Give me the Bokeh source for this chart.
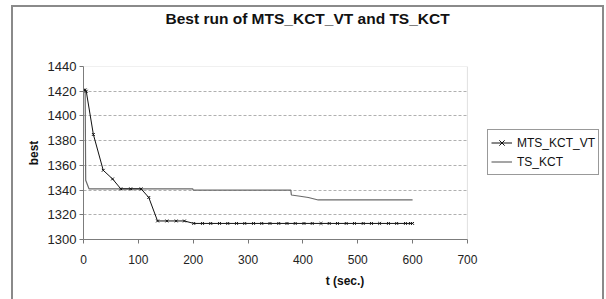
from bokeh.plotting import figure
from bokeh.models import FixedTicker, Legend, LegendItem, Range1d, Title, BoxAnnotation
from bokeh.embed import file_html
from bokeh.resources import INLINE

# ---- data ----
mts_t = [0, 3, 5, 18, 36, 53, 68, 86, 105, 119, 135, 152, 169, 184, 201, 217, 232,
         248, 263, 279, 294, 310, 325, 340, 356, 371, 386, 402, 417, 433, 448, 463,
         479, 494, 510, 525, 540, 556, 571, 587, 596, 600]
mts_v = [1421, 1421, 1420, 1385, 1356, 1349, 1341, 1341, 1341, 1334, 1315, 1315,
         1315, 1315, 1313, 1313, 1313, 1313, 1313, 1313, 1313, 1313, 1313, 1313,
         1313, 1313, 1313, 1313, 1313, 1313, 1313, 1313, 1313, 1313, 1313, 1313,
         1313, 1313, 1313, 1313, 1313, 1313]
ts_t = [0, 3, 4, 10, 199, 200, 378, 379, 395, 410, 428, 600]
ts_v = [1421, 1420, 1348, 1341, 1341, 1340, 1340, 1336, 1335, 1334, 1332, 1332]
x_ticks = [0, 100, 200, 300, 400, 500, 600, 700]
y_ticks = [1300, 1320, 1340, 1360, 1380, 1400, 1420, 1440]

FONT = "Liberation Sans"
X_MIN, X_MAX = x_ticks[0], x_ticks[-1]
Y_MIN, Y_MAX = y_ticks[0], y_ticks[-1]
# frame extends to the right to host the legend; 700 stays at the plot-area edge
X_VIEW_END = X_MAX * 519 / 381

p = figure(width=593, height=294, output_backend="svg", toolbar_location=None,
           x_range=Range1d(X_MIN, X_VIEW_END), y_range=Range1d(Y_MIN, Y_MAX),
           min_border_left=70, min_border_right=0, min_border_top=59,
           min_border_bottom=62)
p.styles = {"margin-left": "11px", "margin-top": "5px",
            "border-top": "2px solid #8a8a8a", "border-left": "2px solid #8a8a8a",
            "border-right": "2px solid #8a8a8a"}

p.title.text = ""
p.add_layout(Title(text=" ", text_font_size="1px", standoff=37,
                   text_color="white"), "above")
p.add_layout(Title(text="Best run of MTS_KCT_VT and TS_KCT", text_font=FONT,
                   text_font_size="15.5px", text_font_style="bold",
                   align="left", offset=82, standoff=0,
                   text_color="#111111"), "above")

p.outline_line_color = None
p.background_fill_color = "white"
p.border_fill_color = "white"

# plot-area border (top/right grey like the reference)
p.add_layout(BoxAnnotation(left=X_MIN, right=X_MAX, bottom=Y_MIN, top=Y_MAX,
                           fill_alpha=0, line_color="#9a9a9a", line_width=1))

p.xgrid.visible = False
grid_y = y_ticks[1:-1]
g = p.ygrid[0]
if "cross_bounds" in g.properties():
    g.ticker = FixedTicker(ticks=grid_y)
    g.cross_bounds = (X_MIN, X_MAX)
    g.grid_line_color = "#b0b0b0"
    g.grid_line_dash = "3 2"
else:
    g.visible = False
    p.segment(x0=[X_MIN] * len(grid_y), x1=[X_MAX] * len(grid_y), y0=grid_y,
              y1=grid_y, line_color="#b0b0b0", line_dash="3 2", line_width=1)

for ax in (p.xaxis[0], p.yaxis[0]):
    ax.axis_line_color = "#777777"
    ax.major_tick_line_color = "#777777"
    ax.major_tick_out = 4
    ax.major_tick_in = 0
    ax.minor_tick_line_color = None
    ax.major_label_text_font = FONT
    ax.major_label_text_color = "#222222"
    ax.axis_label_text_font = FONT
    ax.axis_label_text_font_style = "bold"
    ax.axis_label_text_font_size = "12px"
    ax.axis_label_text_color = "#111111"

p.xaxis.ticker = FixedTicker(ticks=x_ticks)
p.xaxis.bounds = (X_MIN, X_MAX)
p.yaxis.ticker = FixedTicker(ticks=y_ticks)
p.xaxis.major_label_text_font_size = "12px"
p.yaxis.major_label_text_font_size = "13px"
p.xaxis.major_label_standoff = 11
p.yaxis.major_label_standoff = 3
p.xaxis.axis_label = "t (sec.)"
p.yaxis.axis_label = "best"
p.xaxis.axis_label_standoff = 7
p.yaxis.axis_label_standoff = 4

ts_line = p.line(ts_t, ts_v, line_color="#6a6a6a", line_width=1.2)
mts_line = p.line(mts_t, mts_v, line_color="#111111", line_width=1)
mts_pts = p.scatter(mts_t, mts_v, marker="x", size=4, line_color="#111111",
                    line_width=1)

legend = Legend(items=[LegendItem(label="MTS_KCT_VT", renderers=[mts_line, mts_pts]),
                       LegendItem(label="TS_KCT", renderers=[ts_line])],
                location=(404, 64), margin=0, padding=3, spacing=0,
                glyph_width=21, glyph_height=19, label_height=19,
                label_standoff=5, label_text_font=FONT,
                label_text_font_size="12px", label_text_color="#111111",
                border_line_color="#333333", border_line_width=1,
                background_fill_color="white", background_fill_alpha=1.0)
p.add_layout(legend)

open("out.html", "w").write(file_html(p, INLINE))
